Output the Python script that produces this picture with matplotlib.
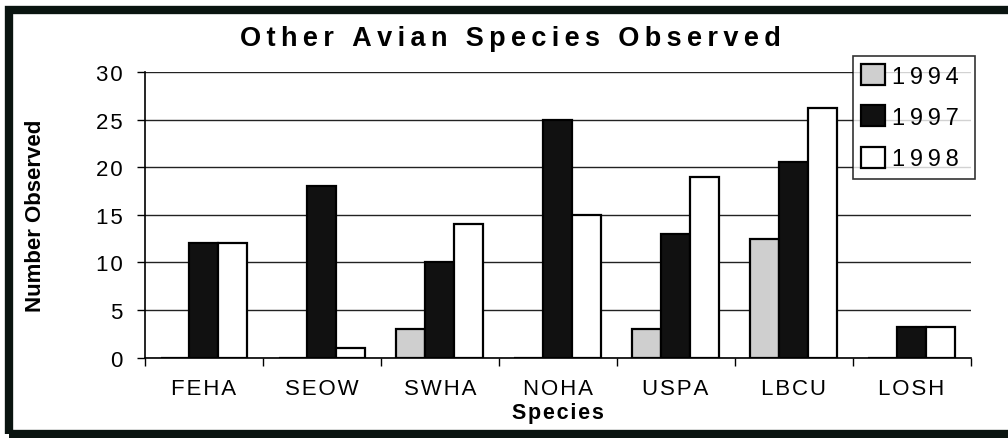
import matplotlib
matplotlib.use("Agg")
from matplotlib import pyplot as plt
from matplotlib.patches import Rectangle
import numpy as np

species = ["FEHA", "SEOW", "SWHA", "NOHA", "USPA", "LBCU", "LOSH"]
years = ["1994", "1997", "1998"]
obs_1994 = [0, 0, 3, 0, 3, 12.5, 0]
obs_1997 = [12, 18, 10, 25, 13, 20.5, 3.2]
obs_1998 = [12, 1, 14, 15, 19, 26.2, 3.2]
yticks = [0, 5, 10, 15, 20, 25, 30]

plt.rcParams['font.family'] = ['Liberation Sans', 'DejaVu Sans']

def spaced(s, sep="\u200a"):
    # mimic the letter-spaced lettering of the original
    return sep.join(s)

fig = plt.figure(figsize=(10.08, 4.39), dpi=100)
ax = fig.add_axes([0.1438, 0.183, 0.819, 0.651])

x = np.arange(len(species))
w = 0.245
fills = ['#cfcfcf', '#111111', 'white']
for i, (vals, c) in enumerate(zip([obs_1994, obs_1997, obs_1998], fills)):
    ax.bar(x + (i - 1) * w, vals, w, color=c, edgecolor='black', linewidth=1.6,
           label=spaced(years[i], "\u2009"), zorder=3)

ax.set_xlim(-0.5, len(species) - 0.5)
ax.set_ylim(0, 30)
ax.set_yticks(yticks)
ax.set_yticklabels([spaced(str(v)) for v in yticks], fontsize=16)
ax.yaxis.grid(True, color='#222222', linewidth=1.0, zorder=0)
ax.set_xticks(np.arange(len(species) + 1) - 0.5)
ax.set_xticklabels([])
ax.set_xticks(x, minor=True)
ax.set_xticklabels([spaced(s) for s in species], minor=True, fontsize=16)
ax.tick_params(axis='x', which='minor', length=0, pad=15)
ax.tick_params(axis='x', which='major', length=6, width=1, direction='out')
ax.tick_params(axis='y', length=6, width=1, pad=10)
for s in ['top', 'right']:
    ax.spines[s].set_visible(False)
for s in ['left', 'bottom']:
    ax.spines[s].set_linewidth(1.2)

ax.set_ylabel("Number Observed", fontsize=16, fontweight='bold')
ax.yaxis.set_label_coords(-0.12, 0.5)
ax.set_xlabel(spaced("Species"), fontsize=15.5, fontweight='bold', labelpad=2)
fig.text(0.506, 0.912, spaced("Other Avian Species Observed", "\u2009"), ha='center',
         va='center', fontsize=19.5, fontweight='bold')

leg = fig.legend(loc='upper left', bbox_to_anchor=(0.846, 0.583, 0.121, 0.288),
                 mode='expand', fontsize=17, frameon=True, fancybox=False,
                 handlelength=1.0, handleheight=1.0, handletextpad=0.3,
                 borderpad=0.35, labelspacing=0.75, borderaxespad=0)
leg.get_frame().set_edgecolor('black')
leg.get_frame().set_linewidth(1.2)

# thick frame around the whole figure
fig.patches.append(Rectangle((0.009, 0.008), 1.05, 0.968, transform=fig.transFigure,
                             fill=False, edgecolor='#0a1410', linewidth=6, zorder=10))

fig.savefig("out.png", dpi=100)
